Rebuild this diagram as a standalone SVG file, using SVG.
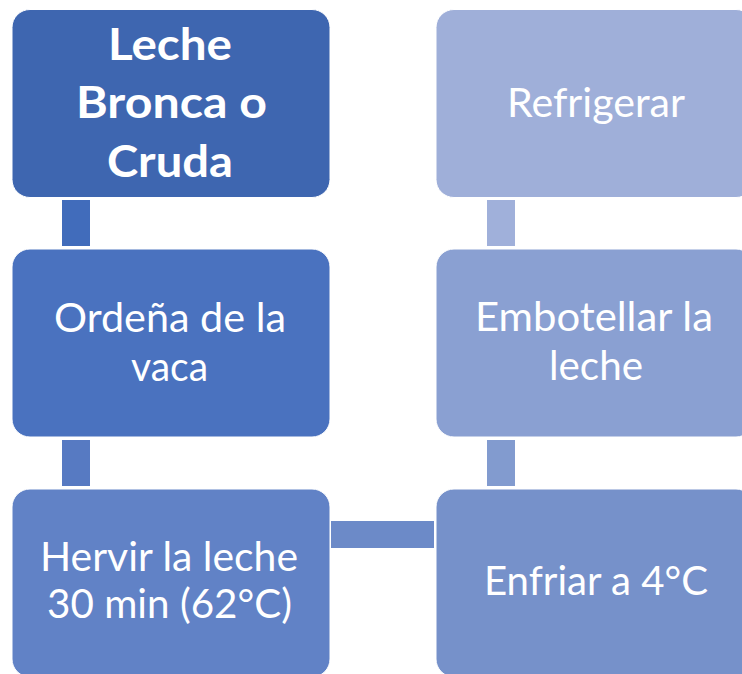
<svg xmlns="http://www.w3.org/2000/svg" width="742" height="674" viewBox="0 0 742 674">
<style>
.box{stroke:#ffffff;stroke-width:1}
.t{font-family:Lato,"Open Sans","Liberation Sans",sans-serif;font-size:40px;fill:#ffffff;text-anchor:middle}
.b{font-weight:bold;font-size:44px}
</style>
<rect width="742" height="674" fill="#ffffff"/>
<g id="connectors">
<rect x="62" y="200" width="28" height="46" fill="#416CBB"/>
<rect x="62" y="440" width="28" height="46" fill="#577AC2"/>
<rect x="331" y="521" width="103" height="27" fill="#6C8AC8"/>
<rect x="487" y="440" width="28" height="46" fill="#829BCF"/>
<rect x="487" y="200" width="28" height="46" fill="#A0B0DA"/>
</g>
<g id="n1">
<rect class="box" x="12" y="9.5" width="318" height="188" rx="18" fill="#3E66B0"/>
<text class="t b" x="170" y="60" textLength="124" lengthAdjust="spacingAndGlyphs">Leche</text>
<text class="t b" x="171.5" y="118" textLength="191" lengthAdjust="spacingAndGlyphs">Bronca o</text>
<text class="t b" x="170" y="176.5" textLength="126" lengthAdjust="spacingAndGlyphs">Cruda</text>
</g>
<g id="n2">
<rect class="box" x="12" y="249" width="318" height="188" rx="18" fill="#4A72BF"/>
<text class="t" x="170" y="332" textLength="232" lengthAdjust="spacingAndGlyphs">Ordeña de la</text>
<text class="t" x="169.5" y="381" textLength="77" lengthAdjust="spacingAndGlyphs">vaca</text>
</g>
<g id="n3">
<rect class="box" x="12" y="489" width="318" height="188" rx="18" fill="#6182C6"/>
<text class="t" x="169" y="571" textLength="258" lengthAdjust="spacingAndGlyphs">Hervir la leche</text>
<text class="t" x="169.5" y="618" textLength="245" lengthAdjust="spacingAndGlyphs">30 min (62°C)</text>
</g>
<g id="n4">
<rect class="box" x="436" y="489" width="318" height="188" rx="18" fill="#7691CA"/>
<text class="t" x="596" y="595" textLength="224" lengthAdjust="spacingAndGlyphs">Enfriar a 4°C</text>
</g>
<g id="n5">
<rect class="box" x="436" y="249" width="318" height="188" rx="18" fill="#8AA0D2"/>
<text class="t" x="594" y="331" textLength="238" lengthAdjust="spacingAndGlyphs">Embotellar la</text>
<text class="t" x="596" y="380" textLength="94" lengthAdjust="spacingAndGlyphs">leche</text>
</g>
<g id="n6">
<rect class="box" x="436" y="9.5" width="318" height="188" rx="18" fill="#9FAFD9"/>
<text class="t" x="596" y="117" textLength="178" lengthAdjust="spacingAndGlyphs">Refrigerar</text>
</g>
</svg>
